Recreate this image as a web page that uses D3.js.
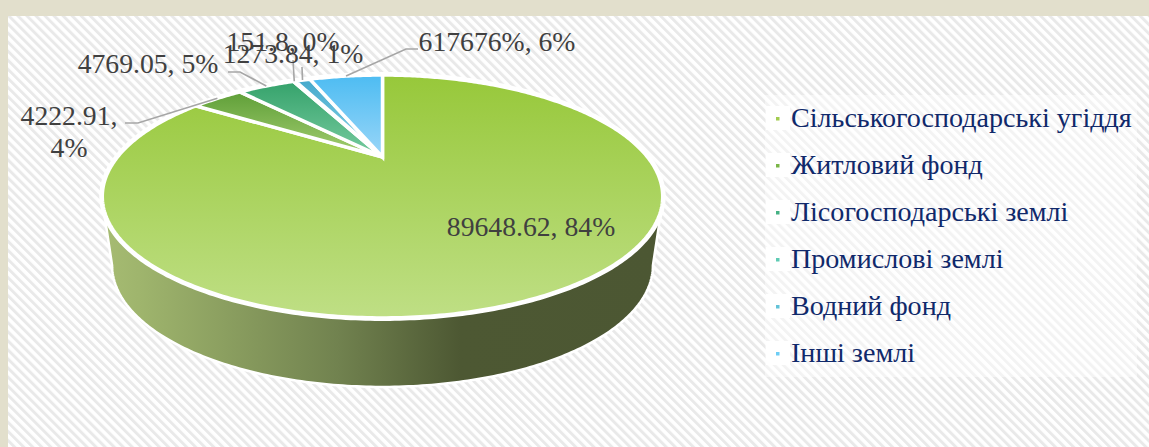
<!DOCTYPE html>
<html>
<head>
<meta charset="utf-8">
<script src="https://cdn.jsdelivr.net/npm/d3@7"></script>
<style>
    html, body { margin: 0; padding: 0; background: #e2dfcc; overflow: hidden; }
    text { font-family: "Liberation Serif", serif; }
</style>
</head>
<body>
<div id="chart"></div>
<script>
var categories = ["Сільськогосподарські угіддя", "Житловий фонд", "Лісогосподарські землі", "Промислові землі", "Водний фонд", "Інші землі"];
var values = [89648.62, 4222.91, 4769.05, 151.8, 1273.84, 6176.76];
var labelLines = [["89648.62, 84%"], ["4222.91,", "4%"], ["4769.05, 5%"], ["151.8, 0%"], ["1273.84, 1%"], ["617676%, 6%"]];

var sliceColors = [["#97c83a", "#bfdf85"], ["#5f9f38", "#a5cf72"], ["#35a26b", "#78cca0"], ["#3f9fc0", "#8fd6e8"], ["#45a9cc", "#8fd6e8"], ["#4dbcf2", "#9ad6f8"]];
var legendColors = ["#a2cc4f", "#7ab648", "#45b184", "#5fcbb4", "#63c3d8", "#6dcdf5"];

var width = 1149, height = 447;

// label layout: text anchor x, first baseline y, elbow points of the leader (none for the big slice)
var labelLayout = [
    {x: 531, y: 236, anchor: "middle", elbow: null},
    {x: 69, y: 125, anchor: "middle", elbow: [[125, 123], [138, 123]]},
    {x: 148, y: 73, anchor: "middle", elbow: [[228, 72], [240, 72]]},
    {x: 283, y: 51, anchor: "middle", elbow: [[293, 60]]},
    {x: 293, y: 63, anchor: "middle", elbow: [[302, 67]]},
    {x: 497, y: 51, anchor: "middle", elbow: [[418, 49], [406, 49]]}
];

var svg = d3.select("#chart").append("svg")
    .attr("width", width)
    .attr("height", height)
    .style("display", "block");

var defs = svg.append("defs");

// hatched panel
var hatch = defs.append("pattern")
    .attr("id", "hatch")
    .attr("patternUnits", "userSpaceOnUse")
    .attr("width", 6.4)
    .attr("height", 6.4)
    .attr("patternTransform", "rotate(-45)");
hatch.append("rect").attr("width", 6.4).attr("height", 6.4).attr("fill", "#ffffff");
hatch.append("rect").attr("width", 2.9).attr("height", 6.4).attr("fill", "#e9e9e9");

svg.append("rect")
    .attr("x", 8).attr("y", 16)
    .attr("width", width - 8).attr("height", height - 16)
    .attr("fill", "url(#hatch)");

// legend backdrop
svg.append("rect")
    .attr("x", 765).attr("y", 95)
    .attr("width", 372).attr("height", 282)
    .attr("fill", "#ffffff").attr("opacity", 0.45);

/**
 * The pie is a flat circle seen in perspective. u, v are on the unit circle,
 * the projection sends them to the page so the centre is above the ellipse middle.
 */
var cx = 382.5, centerY = 157, rimScale = 265, tiltA = 57.6, tiltP = -0.325;
var wallDepth = 69, wallShrink = 0.965;

function project (angle) {
    var u = Math.sin(angle), v = -Math.cos(angle), w = 1 + tiltP * v;
    return [cx + rimScale * u / w, (tiltA * v + centerY) / w];
}

function projectBottom (angle) {
    var p = project(angle);
    return [cx + (p[0] - cx) * wallShrink, p[1] + wallDepth];
}

function sampleAngles (a0, a1) {
    var n = Math.max(2, Math.ceil(Math.abs(a1 - a0) * 80));
    return d3.range(n + 1).map(function(i) { return a0 + (a1 - a0) * i / n; });
}

var line = d3.line();

var pie = d3.pie().sort(null).startAngle(0).endAngle(2 * Math.PI);
var arcs = pie(values);

// side wall
var wallGrad = defs.append("linearGradient")
    .attr("id", "wallGrad")
    .attr("gradientUnits", "userSpaceOnUse")
    .attr("x1", 105).attr("x2", 660).attr("y1", 0).attr("y2", 0);
[[0, "#a6bb72"], [0.06, "#9fb56d"], [0.42, "#71824f"], [0.64, "#4d5833"], [1, "#4c5733"]].forEach(function(s) {
    wallGrad.append("stop").attr("offset", s[0]).attr("stop-color", s[1]);
});

var rad = Math.PI / 180;
var wallPoints = sampleAngles(112 * rad, 248 * rad).map(project)
    .concat(sampleAngles(251 * rad, 109 * rad).map(projectBottom));

svg.append("path")
    .attr("d", line(wallPoints) + "Z")
    .attr("fill", "url(#wallGrad)")
    .attr("stroke", "#ffffff")
    .attr("stroke-width", 2.5)
    .attr("stroke-linejoin", "round");

// white rim of the top face
svg.append("path")
    .attr("d", line(sampleAngles(0, 2 * Math.PI).map(project)) + "Z")
    .attr("fill", "none")
    .attr("stroke", "#ffffff")
    .attr("stroke-width", 6);

// slices
arcs.forEach(function(d, i) {
    var grad = defs.append("linearGradient")
        .attr("id", "slice" + i)
        .attr("x1", 0).attr("x2", 0).attr("y1", 0).attr("y2", 1);
    grad.append("stop").attr("offset", 0).attr("stop-color", sliceColors[i][0]);
    grad.append("stop").attr("offset", 1).attr("stop-color", sliceColors[i][1]);
});

svg.append("g")
    .selectAll("path")
    .data(arcs)
    .enter()
    .append("path")
    .attr("d", function(d) {
        var rim = sampleAngles(d.startAngle, d.endAngle).map(project);
        return line([[cx, centerY]].concat(rim)) + "Z";
    })
    .attr("fill", function(d, i) { return "url(#slice" + i + ")"; })
    .attr("stroke", "#ffffff")
    .attr("stroke-width", 3.5)
    .attr("stroke-linejoin", "miter");

// leader lines
svg.append("g")
    .selectAll("path")
    .data(arcs.filter(function(d, i) { return labelLayout[i].elbow; }))
    .enter()
    .append("path")
    .attr("d", function(d) {
        var rimPoint = project((d.startAngle + d.endAngle) / 2);
        return line(labelLayout[d.index].elbow.concat([rimPoint]));
    })
    .attr("fill", "none")
    .attr("stroke", "#a6a6a6")
    .attr("stroke-width", 1.6);

// data labels
var labels = svg.append("g")
    .selectAll("text")
    .data(labelLines)
    .enter()
    .append("text")
    .attr("x", function(d, i) { return labelLayout[i].x; })
    .attr("y", function(d, i) { return labelLayout[i].y; })
    .attr("text-anchor", function(d, i) { return labelLayout[i].anchor; })
    .attr("font-size", 27.7)
    .attr("fill", "#404040");

labels.selectAll("tspan")
    .data(function(d) { return d; })
    .enter()
    .append("tspan")
    .attr("x", function() { return d3.select(this.parentNode).attr("x"); })
    .attr("dy", function(d, i) { return i ? 32 : 0; })
    .text(function(d) { return d; });

// legend
var legendY = d3.scalePoint().domain(categories).range([127, 362]);

var legend = svg.append("g")
    .selectAll("g")
    .data(categories)
    .enter()
    .append("g")
    .attr("transform", function(d) { return "translate(0," + legendY(d) + ")"; });

legend.append("rect")
    .attr("x", 766).attr("y", -21)
    .attr("width", 24).attr("height", 24)
    .attr("fill", "#ffffff");

legend.append("rect")
    .attr("x", 776).attr("y", -10)
    .attr("width", 3.5).attr("height", 3.5)
    .attr("fill", function(d, i) { return legendColors[i]; });

legend.append("text")
    .attr("x", 791)
    .attr("font-size", 28.1)
    .attr("fill", "#10296b")
    .text(function(d) { return d; });
</script>
</body>
</html>
